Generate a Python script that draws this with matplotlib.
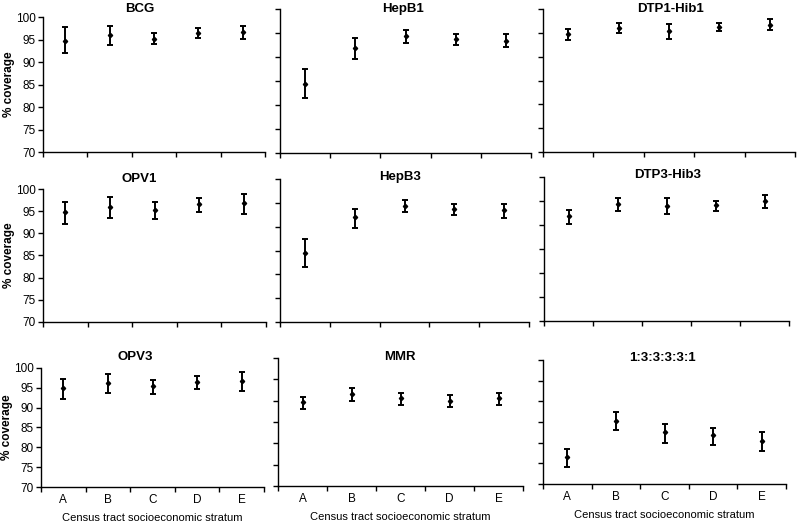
import matplotlib
matplotlib.use("Agg")
import matplotlib.pyplot as plt
from matplotlib.ticker import FixedLocator

plt.rcParams['font.family'] = ['Liberation Sans', 'DejaVu Sans']

strata = ['A', 'B', 'C', 'D', 'E']

bcg_mean = [94.7, 96.1, 95.2, 96.4, 96.7]
bcg_low = [92.0, 93.8, 94.1, 95.3, 95.2]
bcg_high = [97.8, 98.1, 96.4, 97.5, 98.1]

hepb1_mean = [84.4, 91.8, 94.3, 93.7, 93.4]
hepb1_low = [81.5, 89.6, 93.0, 92.5, 92.0]
hepb1_high = [87.4, 93.9, 95.7, 94.8, 94.8]

dtp1_mean = [94.7, 96.0, 95.4, 96.3, 96.7]
dtp1_low = [93.6, 94.9, 93.7, 95.4, 95.5]
dtp1_high = [95.7, 97.1, 96.8, 97.1, 97.8]

opv1_mean = [94.7, 95.9, 95.3, 96.6, 96.8]
opv1_low = [92.2, 93.5, 93.3, 94.7, 94.3]
opv1_high = [97.1, 98.3, 97.0, 97.9, 98.9]

hepb3_mean = [84.4, 92.0, 94.4, 93.7, 93.4]
hepb3_low = [81.5, 89.7, 93.0, 92.5, 91.9]
hepb3_high = [87.5, 93.8, 95.5, 94.7, 94.8]

dtp3_mean = [91.8, 94.4, 94.0, 94.1, 94.9]
dtp3_low = [90.3, 92.9, 92.3, 93.0, 93.5]
dtp3_high = [93.2, 95.6, 95.7, 95.1, 96.2]

opv3_mean = [94.9, 96.2, 95.4, 96.5, 96.8]
opv3_low = [92.3, 93.6, 93.5, 94.8, 94.2]
opv3_high = [97.2, 98.5, 97.1, 98.0, 99.0]

mmr_mean = [89.6, 91.5, 90.6, 89.9, 90.6]
mmr_low = [88.1, 89.9, 89.0, 88.5, 89.0]
mmr_high = [90.8, 92.9, 91.9, 91.4, 91.8]

series_mean = [76.5, 85.3, 82.6, 81.8, 80.5]
series_low = [74.1, 83.0, 80.0, 79.5, 78.1]
series_high = [78.4, 87.3, 84.5, 83.5, 82.7]

titles = ['BCG', 'HepB1', 'DTP1-Hib1',
          'OPV1', 'HepB3', 'DTP3-Hib3',
          'OPV3', 'MMR', '1:3:3:3:3:1']
means = [bcg_mean, hepb1_mean, dtp1_mean, opv1_mean, hepb3_mean, dtp3_mean,
         opv3_mean, mmr_mean, series_mean]
lows = [bcg_low, hepb1_low, dtp1_low, opv1_low, hepb3_low, dtp3_low,
        opv3_low, mmr_low, series_low]
highs = [bcg_high, hepb1_high, dtp1_high, opv1_high, hepb3_high, dtp3_high,
         opv3_high, mmr_high, series_high]

# plot boxes in pixels (left, top, right, bottom) and title centres
W, H = 797, 523
boxes = [(43, 17, 265, 152), (280, 9, 531, 153), (543, 9, 795, 152),
         (43, 189, 266, 322), (280, 179, 529, 322), (544, 177, 789, 321),
         (41, 368, 264, 487), (278, 358, 523, 486), (543, 360, 786, 484)]
title_pos = [(140, 9), (403, 9), (671, 9),
             (139, 179), (400, 177), (668, 175),
             (135, 357), (400, 357), (662, 358)]

fig = plt.figure(figsize=(W / 100, H / 100), dpi=100)

for i in range(9):
    l, t, r, b = boxes[i]
    ax = fig.add_axes([l / W, 1 - b / H, (r - l) / W, (b - t) / H])
    x = [k + 0.5 for k in range(len(strata))]
    yerr = [[m - lo for m, lo in zip(means[i], lows[i])],
            [hi - m for m, hi in zip(means[i], highs[i])]]
    ax.errorbar(x, means[i], yerr=yerr, fmt='D', ms=2.2, color='black',
                ecolor='black', elinewidth=1.4, capsize=2.3, capthick=1.4)
    ax.set_xlim(0, 5)
    ax.set_ylim(70, 100)
    ax.set_yticks(range(70, 101, 5))
    ax.xaxis.set_major_locator(FixedLocator(range(0, 6)))
    ax.xaxis.set_minor_locator(FixedLocator(x))
    ax.set_xticklabels([])
    for side in ['top', 'right']:
        ax.spines[side].set_visible(False)
    for side in ['left', 'bottom']:
        ax.spines[side].set_linewidth(1.0)
    ax.tick_params(axis='both', which='major', direction='out', length=3.5,
                   width=1.0, labelsize=8.5)
    ax.tick_params(axis='x', which='minor', length=0, labelsize=8.5, pad=5)
    col = i % 3
    row = i // 3
    if col == 0:
        ax.set_ylabel('% coverage', fontsize=8.5, fontweight='bold', labelpad=0.5)
        ax.tick_params(axis='y', pad=1.5)
    else:
        ax.set_yticklabels([])
    if row == 2:
        ax.set_xticklabels(strata, minor=True)
        ax.set_xlabel('Census tract socioeconomic stratum', fontsize=8, labelpad=5)
    tx, ty = title_pos[i]
    fig.text(tx / W, 1 - ty / H, titles[i], ha='center', va='center',
             fontsize=9.5, fontweight='bold')

fig.savefig('out.png', dpi=100)
